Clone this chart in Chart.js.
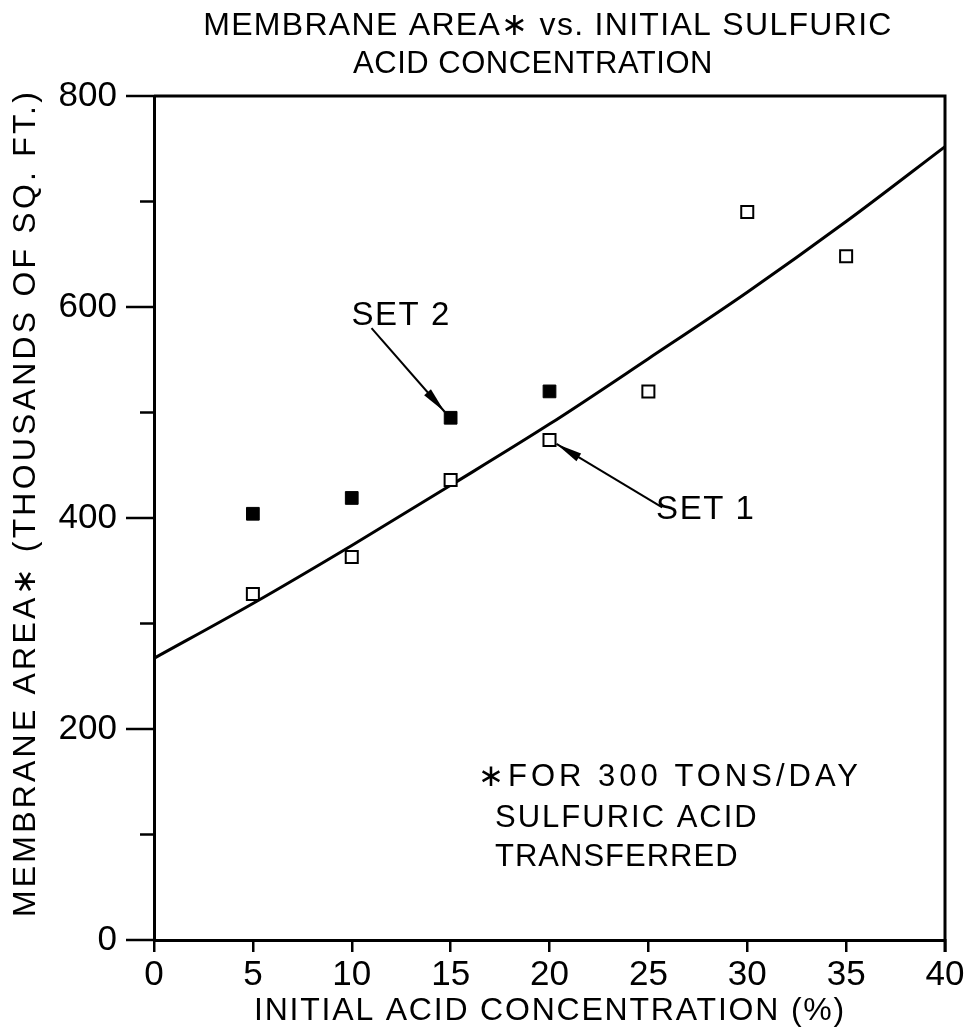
<!DOCTYPE html>
<html lang="en">
<head>
<meta charset="UTF-8">
<title>Membrane Area vs. Initial Sulfuric Acid Concentration</title>
<script src="https://cdn.jsdelivr.net/npm/chart.js"></script>
<style>
  html, body { margin: 0; padding: 0; background: #fff; }
  #chart { display: block; }
</style>
</head>
<body>
<canvas id="chart" width="972" height="1032"></canvas>
<script>
// data: initial acid concentration (%) vs membrane area (thousands of sq. ft.)
const set1Conc = [5, 10, 15, 20, 25, 30, 35];
const set1Area = [328, 363, 436, 474, 520, 690, 648];
const set2Conc = [5, 10, 15, 20];
const set2Area = [404, 419, 495, 520];
const fitConc = [0, 5, 10, 15, 20, 25, 30, 35, 40];
const fitArea = [267, 319, 374, 431, 489, 551, 614, 681, 752];
const yTickValues = [0, 100, 200, 300, 400, 500, 600, 700, 800];
const yLabelValues = [0, 200, 400, 600, 800];

const FONT = '"Liberation Sans", Arial, sans-serif';
const toXY = (xs, ys) => xs.map((x, i) => ({ x: x, y: ys[i] }));

function spacedText(ctx, text, x, y, size, spacing, align) {
  ctx.font = size + 'px ' + FONT;
  ctx.letterSpacing = spacing + 'px';
  ctx.textAlign = align || 'center';
  ctx.textBaseline = 'middle';
  ctx.fillText(text, x, y);
  ctx.letterSpacing = '0px';
}

function arrow(ctx, x0, y0, x1, y1) {
  const ang = Math.atan2(y1 - y0, x1 - x0);
  const len = 26, half = 4.5;
  ctx.lineWidth = 2;
  ctx.beginPath();
  ctx.moveTo(x0, y0);
  ctx.lineTo(x1, y1);
  ctx.stroke();
  ctx.save();
  ctx.translate(x1, y1);
  ctx.rotate(ang);
  ctx.beginPath();
  ctx.moveTo(0, 0);
  ctx.lineTo(-len, -half);
  ctx.lineTo(-len, half);
  ctx.closePath();
  ctx.fill();
  ctx.restore();
}

const decor = {
  id: 'decor',
  afterDraw(chart) {
    const { ctx, chartArea: a, scales: { x, y } } = chart;
    ctx.save();
    ctx.strokeStyle = '#000';
    ctx.fillStyle = '#000';

    // top and right frame
    ctx.lineWidth = 3;
    ctx.beginPath();
    ctx.moveTo(a.left, a.top);
    ctx.lineTo(a.right, a.top);
    ctx.lineTo(a.right, a.bottom + 12);
    ctx.stroke();

    // y ticks, long at labelled values
    ctx.lineWidth = 2.5;
    yTickValues.forEach(v => {
      const py = y.getPixelForValue(v);
      const len = yLabelValues.includes(v) ? 28 : 14;
      ctx.beginPath();
      ctx.moveTo(a.left - len, py);
      ctx.lineTo(a.left, py);
      ctx.stroke();
    });

    // titles
    spacedText(ctx, 'MEMBRANE AREA\u2217 vs. INITIAL SULFURIC', 548, 26, 32, 1.3);
    spacedText(ctx, 'ACID CONCENTRATION', 533, 64, 31, 0.5);
    spacedText(ctx, 'INITIAL ACID CONCENTRATION (%)', 550, 1011, 32, 1.8);
    ctx.save();
    ctx.translate(26, 503);
    ctx.rotate(-Math.PI / 2);
    spacedText(ctx, 'MEMBRANE AREA\u2217 (THOUSANDS OF SQ. FT.)', 0, 0, 32, 3.2);
    ctx.restore();

    // set labels with arrows to a point of each set
    spacedText(ctx, 'SET 2', x.getPixelForValue(12.5), y.getPixelForValue(592), 33, 1.5);
    const p2x = x.getPixelForValue(set2Conc[2]), p2y = y.getPixelForValue(set2Area[2]);
    arrow(ctx, x.getPixelForValue(11.0), y.getPixelForValue(580), p2x - 6, p2y - 6);

    spacedText(ctx, 'SET 1', x.getPixelForValue(27.9), y.getPixelForValue(408), 33, 1.5);
    const p1x = x.getPixelForValue(set1Conc[3]), p1y = y.getPixelForValue(set1Area[3]);
    arrow(ctx, x.getPixelForValue(25.7), y.getPixelForValue(410), p1x + 7, p1y + 4);

    // footnote
    spacedText(ctx, '\u2217FOR 300 TONS/DAY', 478, 777, 31, 4, 'left');
    spacedText(ctx, 'SULFURIC ACID', 495, 818, 31, 2, 'left');
    spacedText(ctx, 'TRANSFERRED', 495, 857, 31, 1, 'left');
    ctx.restore();
  }
};

new Chart(document.getElementById('chart'), {
  type: 'scatter',
  data: {
    datasets: [
      {
        label: 'Set 2',
        data: toXY(set2Conc, set2Area),
        pointStyle: 'rect',
        pointRadius: 9,
        pointBackgroundColor: '#000',
        pointBorderColor: '#000',
        pointBorderWidth: 1
      },
      {
        label: 'Set 1',
        data: toXY(set1Conc, set1Area),
        pointStyle: 'rect',
        pointRadius: 8.5,
        pointBackgroundColor: '#fff',
        pointBorderColor: '#000',
        pointBorderWidth: 2
      },
      {
        label: 'Fit',
        data: toXY(fitConc, fitArea),
        showLine: true,
        borderColor: '#000',
        borderWidth: 3,
        pointRadius: 0,
        cubicInterpolationMode: 'monotone'
      }
    ]
  },
  options: {
    responsive: false,
    animation: false,
    layout: { padding: { top: 96, right: 27, left: 0, bottom: 0 } },
    plugins: {
      legend: { display: false },
      tooltip: { enabled: false }
    },
    scales: {
      x: {
        type: 'linear',
        min: 0,
        max: 40,
        afterFit: s => { s.height = 92; },
        ticks: { stepSize: 5, color: '#000', padding: 2, font: { family: FONT, size: 35 } },
        grid: { drawOnChartArea: false, drawTicks: true, tickLength: 12, color: '#000', lineWidth: 2.5 },
        border: { display: true, color: '#000', width: 3 }
      },
      y: {
        type: 'linear',
        min: 0,
        max: 800,
        afterFit: s => { s.width = 154; },
        ticks: {
          stepSize: 100,
          color: '#000',
          padding: 37,
          font: { family: FONT, size: 35 },
          callback: v => (yLabelValues.includes(v) ? v : '')
        },
        grid: { drawOnChartArea: false, drawTicks: false },
        border: { display: true, color: '#000', width: 3 }
      }
    }
  },
  plugins: [decor]
});
</script>
</body>
</html>
